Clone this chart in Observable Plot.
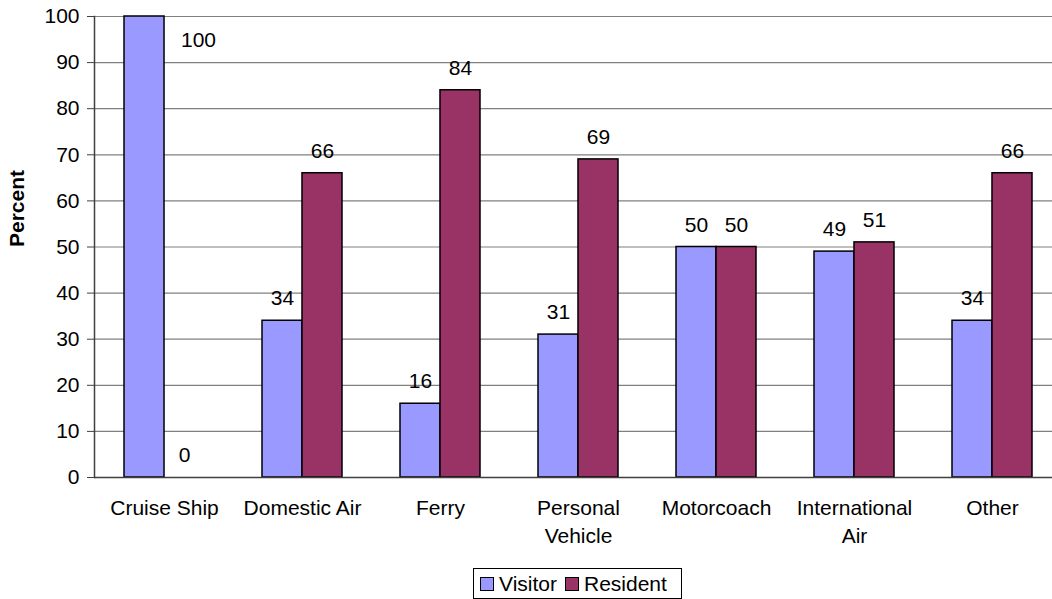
<!DOCTYPE html>
<html>
<head>
<meta charset="utf-8">
<script src="https://cdn.jsdelivr.net/npm/d3@7"></script>
<script src="https://cdn.jsdelivr.net/npm/@observablehq/plot@0.6"></script>
<style>
  html, body { margin: 0; padding: 0; background: #fff; }
  body { width: 1052px; height: 599px; position: relative; overflow: hidden; font-family: "Liberation Sans", Arial, sans-serif; }
  #chart { position: absolute; left: 0; top: 0; }
  #legend { position: absolute; left: 473px; top: 568px; width: 209px; height: 31px; border: 1px solid #000; box-sizing: border-box;
            display: flex; align-items: center; padding-left: 6px; font-size: 21px; color: #000; line-height: 1; }
  .sw { width: 14px; height: 14px; border: 1.5px solid #000; box-sizing: border-box; display: inline-block; margin-right: 5px; }
  .item { display: flex; align-items: center; margin-right: 8px; }
</style>
</head>
<body>
<div id="chart"></div>
<div id="legend"></div>
<script>
const categories = ["Cruise Ship", "Domestic Air", "Ferry", "Personal Vehicle", "Motorcoach", "International Air", "Other"];
const tickLabels = ["Cruise Ship", "Domestic Air", "Ferry", "Personal\nVehicle", "Motorcoach", "International\nAir", "Other"];
const visitor = [100, 34, 16, 31, 50, 49, 34];
const resident = [0, 66, 84, 69, 50, 51, 66];
const yTicks = [0, 10, 20, 30, 40, 50, 60, 70, 80, 90, 100];
const seriesNames = ["Visitor", "Resident"];
const colors = ["#9999FF", "#993366"];

const visitorRows = categories.map((c, i) => ({category: c, value: visitor[i]}));
const residentRows = categories.map((c, i) => ({category: c, value: resident[i]}));
const labelOf = new Map(categories.map((c, i) => [c, tickLabels[i]]));

const width = 1052, height = 560, marginLeft = 94, marginRight = 0, marginTop = 16, marginBottom = 83;
// the category axis runs a little past the right edge of the picture
const xRange = [marginLeft, 1062];
const pIn = 0.4217, pOut = 0.211;
const step = (xRange[1] - xRange[0]) / (categories.length - pIn + 2 * pOut);
const half = step * (1 - pIn) / 2;

const font = 21;
const chart = Plot.plot({
  width, height, marginLeft, marginRight, marginTop, marginBottom,
  style: {fontFamily: '"Liberation Sans", Arial, sans-serif', fontSize: font + "px", color: "#000", background: "#fff", overflow: "hidden"},
  x: {domain: categories, range: xRange, paddingInner: pIn, paddingOuter: pOut, axis: null},
  y: {domain: [0, 100], axis: null},
  marks: [
    Plot.ruleY(yTicks.slice(1), {stroke: "#808080", strokeWidth: 1.2}),
    Plot.barY(visitorRows, {x: "category", y: "value", fill: colors[0], stroke: "#000", strokeWidth: 1.5, insetRight: half}),
    Plot.barY(residentRows, {x: "category", y: "value", fill: colors[1], stroke: "#000", strokeWidth: 1.5, insetLeft: half}),
    Plot.ruleY([0], {stroke: "#404040", strokeWidth: 1.5}),
    Plot.frame({anchor: "left", stroke: "#404040", strokeWidth: 1.5}),
    Plot.axisY({ticks: yTicks, tickSize: 7, tickPadding: 8, fontSize: font, label: null, stroke: "#404040"}),
    Plot.axisX({tickSize: 0, tickPadding: 18, fontSize: font, label: null, tickFormat: d => labelOf.get(d), lineHeight: 1.33}),
    Plot.text(visitorRows.filter(d => d.value < 100), {x: "category", y: "value", text: d => String(d.value), dx: -half / 2, dy: -22, fontSize: font, fill: "#000"}),
    Plot.text(visitorRows.filter(d => d.value >= 100), {x: "category", y: "value", text: d => String(d.value), dx: 34, dy: 24, fontSize: font, fill: "#000"}),
    Plot.text(residentRows, {x: "category", y: "value", text: d => String(d.value), dx: half / 2, dy: -22, fontSize: font, fill: "#000"}),
    Plot.text(["Percent"], {frameAnchor: "left", dx: -77, rotate: -90, fontWeight: "bold", fontSize: font, fill: "#000"})
  ]
});
document.getElementById("chart").appendChild(chart);

const legend = document.getElementById("legend");
seriesNames.forEach((name, i) => {
  const item = document.createElement("span");
  item.className = "item";
  const sw = document.createElement("span");
  sw.className = "sw";
  sw.style.background = colors[i];
  item.appendChild(sw);
  item.appendChild(document.createTextNode(name));
  legend.appendChild(item);
});
</script>
</body>
</html>
